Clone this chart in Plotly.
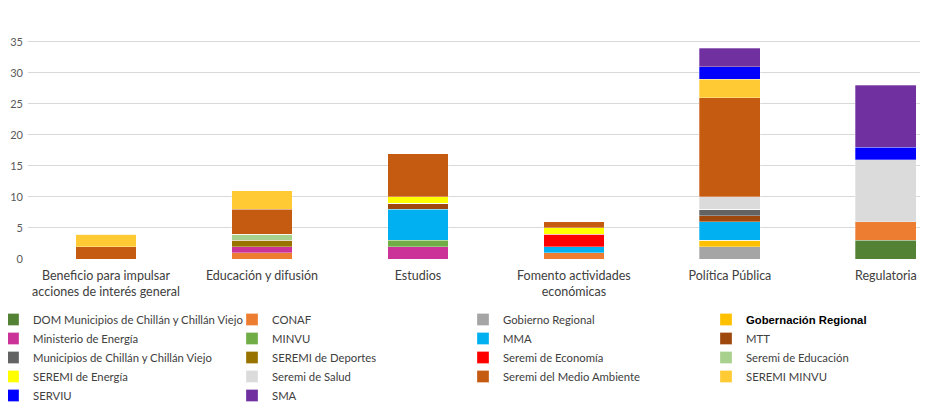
import plotly.graph_objects as go

categories = ["Beneficio para impulsar<br>acciones de interés general", "Educación y difusión", "Estudios",
              "Fomento actividades<br>económicas", "Política Pública", "Regulatoria"]

series_names = [
    "DOM Municipios de Chillán y Chillán Viejo", "CONAF", "Gobierno Regional", "Gobernación Regional",
    "Ministerio de Energía", "MINVU", "MMA", "MTT",
    "Municipios de Chillán y Chillán Viejo", "SEREMI de Deportes", "Seremi de Economía", "Seremi de Educación",
    "SEREMI de Energía", "Seremi de Salud", "Seremi del Medio Ambiente", "SEREMI MINVU",
    "SERVIU", "SMA",
]

dom_municipios = [0, 0, 0, 0, 0, 3]
conaf = [0, 1, 0, 1, 0, 3]
gobierno_regional = [0, 0, 0, 0, 2, 0]
gobernacion_regional = [0, 0, 0, 0, 1, 0]
ministerio_energia = [0, 1, 2, 0, 0, 0]
minvu = [0, 0, 1, 0, 0, 0]
mma = [0, 0, 5, 1, 3, 0]
mtt = [0, 0, 1, 0, 1, 0]
municipios = [0, 0, 0, 0, 1, 0]
seremi_deportes = [0, 1, 0, 0, 0, 0]
seremi_economia = [0, 0, 0, 2, 0, 0]
seremi_educacion = [0, 1, 0, 0, 0, 0]
seremi_energia = [0, 0, 1, 1, 0, 0]
seremi_salud = [0, 0, 0, 0, 2, 10]
seremi_medio_ambiente = [2, 4, 7, 1, 16, 0]
seremi_minvu = [2, 3, 0, 0, 3, 0]
serviu = [0, 0, 0, 0, 2, 2]
sma = [0, 0, 0, 0, 3, 10]

series_values = [dom_municipios, conaf, gobierno_regional, gobernacion_regional,
                 ministerio_energia, minvu, mma, mtt,
                 municipios, seremi_deportes, seremi_economia, seremi_educacion,
                 seremi_energia, seremi_salud, seremi_medio_ambiente, seremi_minvu,
                 serviu, sma]

colors = ["#548235", "#ED7D31", "#A5A5A5", "#FFC000",
          "#CC3399", "#70AD47", "#00B0F0", "#9E480E",
          "#636363", "#997300", "#FF0000", "#A9D18E",
          "#FFFF00", "#DBDBDB", "#C55A11", "#FFCA33",
          "#0000FF", "#7030A0"]

y_ticks = [0, 5, 10, 15, 20, 25, 30, 35]

fig = go.Figure()
legend_ids = ["legend", "legend2", "legend3", "legend4"]
for i, (name, vals, col) in enumerate(zip(series_names, series_values, colors)):
    label = name
    if name == "Gobernación Regional":
        label = '<span style="font-family:Arial, Liberation Sans;font-weight:bold;color:#000000;">Gobernación Regional</span>'
    fig.add_trace(go.Bar(
        x=list(range(len(categories))), y=vals, name=label,
        marker=dict(color=col, line=dict(color="rgba(255,255,255,0.6)", width=0.5)),
        width=0.39, legend=legend_ids[i % 4],
    ))

font_fam = "Lato, Open Sans, sans-serif"
L = 20
W = 900.0


def leg(text_page_px, indent=0):
    left = text_page_px - 48
    return dict(orientation="v", traceorder="normal", yanchor="top", y=-0.19,
                xanchor="left", x=(left - L) / W, indentation=indent,
                bgcolor="rgba(0,0,0,0)", borderwidth=0,
                font=dict(family=font_fam, size=11.3, color="#404040"), tracegroupgap=0)


l1 = leg(48, -15)
l1["x"] = -L / W

fig.update_layout(
    barmode="stack",
    width=920, height=394,
    margin=dict(l=L, r=0, t=9, b=143, autoexpand=False),
    paper_bgcolor="white", plot_bgcolor="white",
    showlegend=True,
    legend=l1,
    legend2=leg(272),
    legend3=leg(503),
    legend4=leg(746),
    xaxis=dict(
        tickmode="array", tickvals=list(range(len(categories))), ticktext=categories,
        range=[-0.5, 5.27], showgrid=False, zeroline=False, showline=False, automargin=False,
        tickfont=dict(family=font_fam, size=12.5, color="#404040"), ticks="", ticklabelstandoff=7,
    ),
    yaxis=dict(
        range=[0, 39], tickmode="array", tickvals=y_ticks, automargin=False,
        showgrid=True, gridcolor="#D9D9D9", gridwidth=1, zeroline=False,
        tickfont=dict(family=font_fam, size=11, color="#595959"), ticks="", ticklabelstandoff=4,
    ),
    font=dict(family=font_fam),
)

fig.write_html("out.html")
